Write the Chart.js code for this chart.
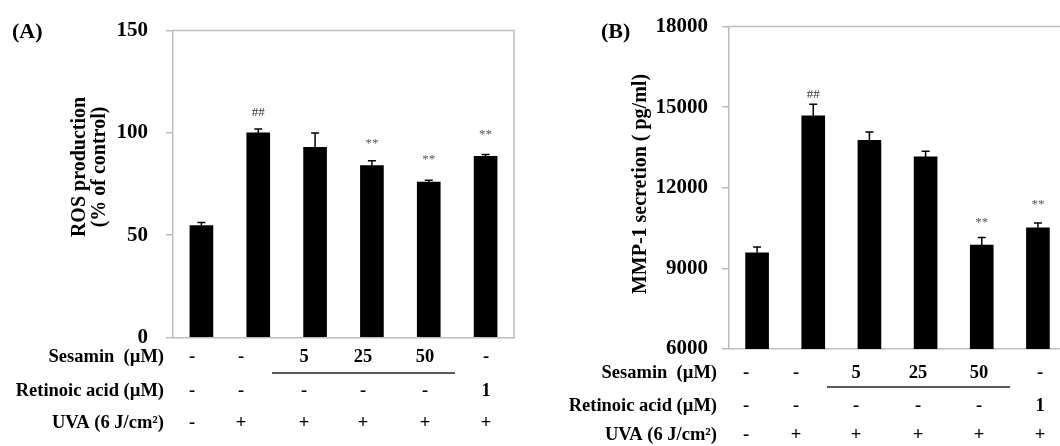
<!DOCTYPE html>
<html><head><meta charset="utf-8">
<script src="https://cdn.jsdelivr.net/npm/chart.js@4.4.1/dist/chart.umd.min.js"></script>
<style>
html,body{margin:0;padding:0;background:#fff;overflow:hidden;width:1060px;height:446px;position:relative}
#wa{position:absolute;left:0;top:0;width:530px;height:446px}
#wb{position:absolute;left:530px;top:0;width:545px;height:446px}
canvas{display:block}
</style></head><body>
<div id="wa"><canvas id="ca" width="530" height="446"></canvas></div>
<div id="wb"><canvas id="cb" width="545" height="446"></canvas></div>
<script>
// ---- data ----
const categories = ['Control', 'UVA', 'UVA + Sesamin 5', 'UVA + Sesamin 25', 'UVA + Sesamin 50', 'UVA + Retinoic acid 1'];
const sesaminRow = ['-', '-', '5', '25', '50', '-'];
const retinoicRow = ['-', '-', '-', '-', '-', '1'];
const uvaRow = ['-', '+', '+', '+', '+', '+'];
const rowLabels = ['Sesamin  (\u00b5M)', 'Retinoic acid (\u00b5M)', 'UVA (6 J/cm\u00b2)'];

const rosValues = [54.7, 100, 93, 84, 76, 88.5];
const rosErrors = [1.5, 1.9, 7, 2.4, 0.8, 0.9];
const rosMarks = ['', '##', '', '**', '**', '**'];
const rosMarkAt = [null, 110, null, 95, 87, 99];
const rosTicks = [0, 50, 100, 150];

const mmpValues = [9580, 14680, 13770, 13150, 9870, 10510];
const mmpErrors = [220, 430, 310, 210, 280, 180];
const mmpMarks = ['', '##', '', '', '**', '**'];
const mmpMarkAt = [null, 15480, null, null, 10720, 11380];
const mmpTicks = [6000, 9000, 12000, 15000, 18000];

// ---- layout / style ----
const SERIF = '"Liberation Serif", "Times New Roman", serif';
const GRAY = '#bdbdbd';

const layoutA = {
  offset: 0, panel: '(A)', panelX: 12, panelY: 32,
  titleLines: ['ROS production', '(% of control)'], titleX: [80, 100], titleY: 167,
  labelRight: 164, rowY: [357, 391, 423], cols: [192, 241, 304, 363, 425, 486],
  lineX: [272, 455], lineY: 373
};
const layoutB = {
  offset: 530, panel: '(B)', panelX: 601, panelY: 32,
  titleLines: ['MMP-1 secretion ( pg/ml)'], titleX: [641], titleY: 184,
  labelRight: 717, rowY: [373, 406, 435], cols: [746, 796, 856, 918, 979, 1040],
  lineX: [827, 1010], lineY: 387
};

const decor = {
  id: 'decor',
  afterDatasetsDraw(chart, args, o) {
    const ctx = chart.ctx, ys = chart.scales.y, meta = chart.getDatasetMeta(0);
    const a = chart.chartArea;
    ctx.save();
    // plot box top/right
    ctx.strokeStyle = GRAY; ctx.lineWidth = 1.5;
    ctx.beginPath(); ctx.moveTo(a.left, a.top); ctx.lineTo(a.right, a.top); ctx.lineTo(a.right, a.bottom); ctx.stroke();
    // error bars
    ctx.strokeStyle = '#000'; ctx.lineWidth = 1.5;
    o.values.forEach((v, i) => {
      const x = meta.data[i].x, y0 = ys.getPixelForValue(v), y1 = ys.getPixelForValue(v + o.errors[i]);
      ctx.beginPath(); ctx.moveTo(x, y0); ctx.lineTo(x, y1);
      ctx.moveTo(x - 4, y1); ctx.lineTo(x + 4, y1); ctx.stroke();
    });
    // significance marks
    ctx.font = '13px ' + SERIF; ctx.textAlign = 'center'; ctx.textBaseline = 'middle';
    o.marks.forEach((m, i) => {
      if (!m) return;
      ctx.fillStyle = m === '##' ? '#333' : '#555';
      ctx.fillText(m, meta.data[i].x, ys.getPixelForValue(o.markAt[i]));
    });
    ctx.restore();
  },
  afterDraw(chart, args, o) {
    const ctx = chart.ctx, L = o.layout, off = L.offset;
    ctx.save();
    ctx.fillStyle = '#000';
    // panel label
    ctx.font = 'bold 22px ' + SERIF; ctx.textAlign = 'left'; ctx.textBaseline = 'middle';
    ctx.fillText(L.panel, L.panelX - off, L.panelY);
    // y title
    ctx.font = 'bold 20px ' + SERIF; ctx.textAlign = 'center';
    L.titleLines.forEach((t, k) => {
      ctx.save(); ctx.translate(L.titleX[k] - off, L.titleY); ctx.rotate(-Math.PI / 2);
      ctx.fillText(t, 0, 0); ctx.restore();
    });
    // table
    ctx.font = 'bold 18.5px ' + SERIF;
    const rows = [sesaminRow, retinoicRow, uvaRow];
    rows.forEach((row, r) => {
      ctx.textAlign = 'right';
      ctx.fillText(rowLabels[r], L.labelRight - off, L.rowY[r]);
      ctx.textAlign = 'center';
      row.forEach((c, i) => ctx.fillText(c, L.cols[i] - off, L.rowY[r]));
    });
    ctx.strokeStyle = '#222'; ctx.lineWidth = 1.5;
    ctx.beginPath(); ctx.moveTo(L.lineX[0] - off, L.lineY); ctx.lineTo(L.lineX[1] - off, L.lineY); ctx.stroke();
    ctx.restore();
  }
};

function makeChart(id, values, errors, marks, markAt, ticks, yWidth, pad, tickPad, L) {
  return new Chart(document.getElementById(id), {
    type: 'bar',
    data: { labels: categories, datasets: [{ data: values, backgroundColor: '#000', borderWidth: 0, barThickness: 23 }] },
    options: {
      responsive: false, animation: false, devicePixelRatio: 1,
      layout: { padding: pad },
      plugins: { legend: { display: false }, tooltip: { enabled: false },
        decor: { values, errors, marks, markAt, layout: L } },
      scales: {
        x: { grid: { display: false, drawTicks: false }, ticks: { display: false },
             border: { display: true, color: GRAY, width: 1.5 },
             afterFit(s) { s.height = 0; } },
        y: { min: ticks[0], max: ticks[ticks.length - 1],
             afterBuildTicks(s) { s.ticks = ticks.map(v => ({ value: v })); },
             grid: { drawOnChartArea: false, drawTicks: true, tickLength: 7, color: GRAY, lineWidth: 1.5 },
             border: { color: GRAY, width: 1.5 },
             ticks: { color: '#000', padding: tickPad, font: { family: SERIF, size: 21, weight: 'bold' },
                      callback: v => String(v) },
             afterFit(s) { s.width = yWidth; } }
      }
    },
    plugins: [decor]
  });
}

makeChart('ca', rosValues, rosErrors, rosMarks, rosMarkAt, rosTicks, 173,
  { left: 0, top: 21, right: 16, bottom: 108.5 }, 18, layoutA);
makeChart('cb', mmpValues, mmpErrors, mmpMarks, mmpMarkAt, mmpTicks, 199,
  { left: 0, top: 21, right: 9, bottom: 97 }, 14, layoutB);
</script>
</body></html>
